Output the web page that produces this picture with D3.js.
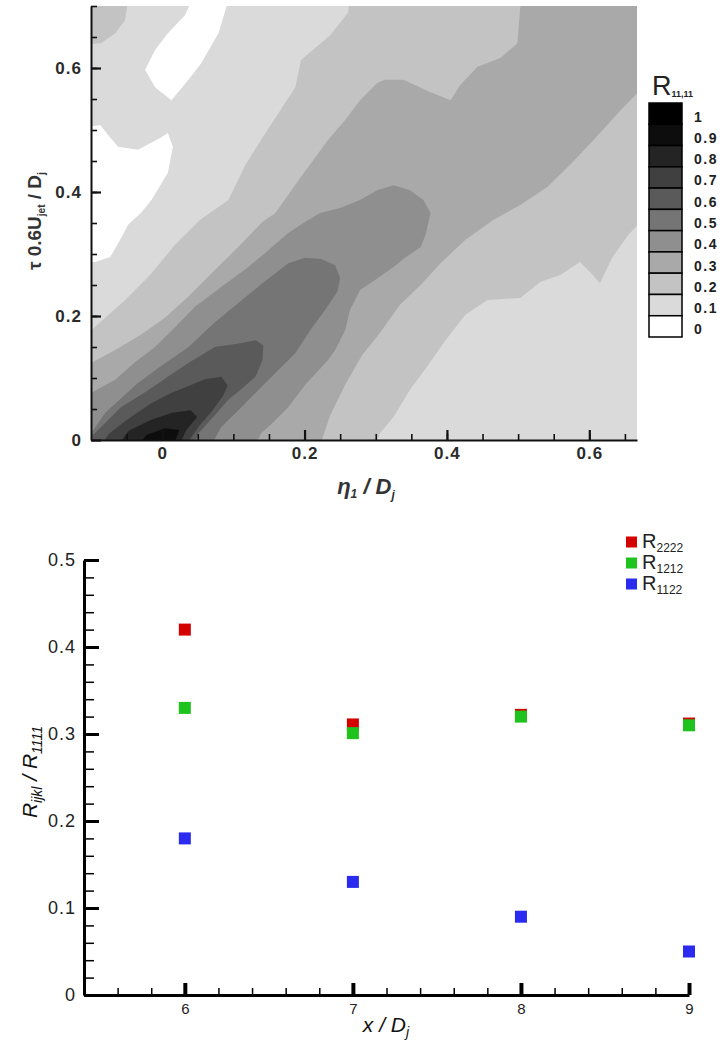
<!DOCTYPE html>
<html>
<head>
<meta charset="utf-8">
<script src="https://cdn.jsdelivr.net/npm/d3@7"></script>
<style>
  body { margin: 0; background: #fff; }
  text { font-family: "Liberation Sans", Arial, sans-serif; }
</style>
</head>
<body>
<div id="vis"></div>
<script>
// ---------- top panel: R11,11 contour map ----------
const topXTicks = [0, 0.2, 0.4, 0.6];
const topYTicks = [0, 0.2, 0.4, 0.6];
const barLevels = [1, 0.9, 0.8, 0.7, 0.6, 0.5, 0.4, 0.3, 0.2, 0.1, 0];
const grays = ['#ffffff', '#dadada', '#c3c3c3', '#a9a9a9', '#8f8f8f', '#757575',
               '#5a5a5a', '#404040', '#242424', '#0d0d0d', '#000000'];

// contour regions, [eta1/Dj, tau*0.6Ujet/Dj]
// lev00 = pockets below 0.1, levNN = region above NN/10
const lev00 = [
  [[0.042,0.71],[0.093,0.71],[0.089,0.694],[0.079,0.656],[0.055,0.608],[0.037,0.581],[0.013,0.548],
   [-0.010,0.569],[-0.024,0.597],[-0.010,0.629],[0.008,0.656],[0.032,0.685]],
  [[-0.115,0.503],[-0.087,0.508],[-0.076,0.492],[-0.062,0.473],[-0.034,0.468],[-0.003,0.487],[0.008,0.495],
   [0.015,0.473],[0.008,0.431],[-0.015,0.387],[-0.030,0.366],[-0.048,0.347],[-0.059,0.323],[-0.073,0.295],
   [-0.094,0.287],[-0.115,0.287]]
];
const lev02 = [
  [[-0.115,0.71],[-0.048,0.71],[-0.052,0.677],[-0.066,0.656],[-0.086,0.640],[-0.115,0.637]],
  [[0.264,0.71],[0.261,0.689],[0.236,0.653],[0.195,0.613],[0.187,0.569],[0.166,0.532],[0.145,0.495],
   [0.117,0.444],[0.093,0.387],[0.053,0.355],[0.018,0.315],[-0.017,0.266],[-0.052,0.226],[-0.080,0.197],
   [-0.100,0.177],[-0.115,0.165],[-0.115,-0.008],[0.299,-0.008],[0.306,0.011],[0.325,0.037],[0.348,0.081],
   [0.372,0.118],[0.398,0.161],[0.426,0.202],[0.457,0.226],[0.503,0.229],[0.531,0.255],[0.559,0.266],
   [0.587,0.287],[0.601,0.271],[0.615,0.253],[0.632,0.294],[0.655,0.331],[0.679,0.360],[0.679,0.71]]
];
const lev03 = [
  [[0.506,0.71],[0.503,0.698],[0.499,0.640],[0.475,0.616],[0.443,0.602],[0.419,0.573],[0.405,0.548],
   [0.377,0.561],[0.339,0.581],[0.313,0.581],[0.302,0.576],[0.285,0.556],[0.278,0.548],[0.257,0.516],
   [0.233,0.484],[0.194,0.423],[0.159,0.366],[0.141,0.352],[0.110,0.315],[0.074,0.274],[0.039,0.234],
   [0.004,0.197],[-0.031,0.169],[-0.066,0.145],[-0.100,0.124],[-0.115,0.116],[-0.115,-0.008],
   [0.222,-0.008],[0.236,0.040],[0.257,0.089],[0.281,0.137],[0.306,0.173],[0.334,0.218],[0.363,0.250],
   [0.391,0.285],[0.426,0.323],[0.465,0.355],[0.503,0.379],[0.541,0.408],[0.573,0.444],[0.606,0.484],
   [0.644,0.532],[0.679,0.573],[0.679,0.71]]
];
const lev04 = [
  [[-0.115,0.065],[-0.100,0.076],[-0.066,0.097],[-0.038,0.126],[-0.010,0.150],[0.018,0.182],[0.046,0.215],
   [0.081,0.245],[0.121,0.279],[0.149,0.306],[0.177,0.334],[0.201,0.352],[0.222,0.366],[0.250,0.374],
   [0.278,0.387],[0.302,0.403],[0.325,0.411],[0.348,0.403],[0.367,0.387],[0.377,0.366],[0.370,0.331],
   [0.363,0.311],[0.341,0.294],[0.325,0.279],[0.299,0.258],[0.278,0.242],[0.264,0.210],[0.257,0.177],
   [0.243,0.145],[0.233,0.129],[0.201,0.089],[0.177,0.053],[0.152,0.024],[0.139,0.011],[0.131,-0.008],
   [-0.115,-0.008]]
];
const lev05 = [
  [[-0.115,0],[-0.100,0.011],[-0.080,0.044],[-0.034,0.092],[-0.003,0.118],[0.037,0.150],[0.074,0.190],
   [0.107,0.221],[0.141,0.253],[0.177,0.285],[0.201,0.294],[0.223,0.292],[0.243,0.282],[0.250,0.261],
   [0.246,0.239],[0.229,0.210],[0.208,0.177],[0.187,0.140],[0.159,0.108],[0.131,0.076],[0.107,0.048],
   [0.083,0.021],[0.069,-0.008],[-0.115,-0.008]]
];
const lev06 = [
  [[-0.115,-0.003],[-0.100,0.005],[-0.058,0.053],[-0.024,0.077],[0.008,0.102],[0.039,0.126],[0.074,0.150],
   [0.110,0.156],[0.131,0.161],[0.142,0.153],[0.141,0.129],[0.131,0.102],[0.110,0.081],[0.093,0.065],
   [0.070,0.035],[0.051,0.011],[0.044,-0.008]]
];
const lev07 = [
  [[-0.085,-0.008],[-0.075,0.010],[-0.048,0.034],[-0.017,0.058],[0.011,0.075],[0.037,0.087],[0.060,0.098],
   [0.083,0.102],[0.092,0.088],[0.086,0.072],[0.069,0.045],[0.053,0.024],[0.040,0.003],[0.035,-0.008]]
];
const lev08 = [
  [[-0.062,-0.008],[-0.047,0.015],[-0.017,0.032],[0.014,0.044],[0.040,0.048],[0.049,0.037],[0.034,0.016],
   [0.024,-0.008]]
];
const lev09 = [
  [[-0.034,-0.008],[-0.022,0.008],[0.004,0.019],[0.024,0.016],[0.016,-0.008]]
];

// ---------- bottom panel: ratios ----------
const xPos = [6, 7, 8, 9];
const r2222 = [0.42, 0.311, 0.322, 0.312];
const r1212 = [0.33, 0.301, 0.32, 0.31];
const r1122 = [0.18, 0.13, 0.09, 0.05];
const seriesNames = ['2222', '1212', '1122'];
const seriesColors = ['#d40000', '#1ec31e', '#2b2bef'];
const botXTicks = [6, 7, 8, 9];
const botYTicks = [0, 0.1, 0.2, 0.3, 0.4, 0.5];

const svg = d3.select('#vis').append('svg')
    .attr('width', 725)
    .attr('height', 1041);

const fmt = d3.format('~g');

// ================= top =================
const mTop = {top: 6, left: 91};
const wTop = 546, hTop = 434;
const gTop = svg.append('g').attr('transform', `translate(${mTop.left},${mTop.top})`);

const xTop = d3.scaleLinear().domain([-0.1, 0.667]).range([0, wTop]);
const yTop = d3.scaleLinear().domain([0, 0.7]).range([hTop, 0]);
const bandGray = d3.scaleThreshold().domain([0.1, 0.2, 0.3, 0.4, 0.5, 0.6, 0.7, 0.8, 0.9, 1]).range(grays);

svg.append('defs').append('clipPath').attr('id', 'plotclip')
  .append('rect').attr('width', wTop).attr('height', hTop);

const field = gTop.append('g').attr('clip-path', 'url(#plotclip)');
field.append('rect').attr('width', wTop).attr('height', hTop).attr('fill', bandGray(0.15));

const layers = [
  {lo: 0, polys: lev00}, {lo: 0.2, polys: lev02}, {lo: 0.3, polys: lev03}, {lo: 0.4, polys: lev04},
  {lo: 0.5, polys: lev05}, {lo: 0.6, polys: lev06}, {lo: 0.7, polys: lev07}, {lo: 0.8, polys: lev08},
  {lo: 0.9, polys: lev09}
];
const ring = d3.line()
    .x(d => xTop(d[0]))
    .y(d => yTop(d[1]))
    .curve(d3.curveLinearClosed);

layers.forEach(L => {
  field.append('g').selectAll('path')
    .data(L.polys)
    .join('path')
      .attr('d', ring)
      .attr('fill', bandGray(L.lo + 0.05));
});

function tickStyle(g, w, col) {
  g.selectAll('.tick line').attr('stroke', col).attr('stroke-width', w);
}

// minor ticks
gTop.append('g').attr('transform', `translate(0,${hTop})`)
  .call(d3.axisBottom(xTop).tickValues(d3.range(-0.05, 0.66, 0.05)).tickSize(-6).tickSizeOuter(0).tickFormat(''))
  .call(g => g.select('.domain').remove())
  .call(g => tickStyle(g, 1.6, '#111'));
gTop.append('g')
  .call(d3.axisLeft(yTop).tickValues(d3.range(0.05, 0.71, 0.05)).tickSize(-6).tickSizeOuter(0).tickFormat(''))
  .call(g => g.select('.domain').remove())
  .call(g => tickStyle(g, 1.6, '#111'));

// major ticks
const topLabel = g => g.selectAll('.tick text')
    .attr('fill', '#2b2b2b')
    .style('font-size', '17px')
    .style('font-weight', 'bold')
    .style('letter-spacing', '1px');

gTop.append('g').attr('transform', `translate(0,${hTop})`)
  .call(d3.axisBottom(xTop).tickValues(topXTicks).tickSize(-10).tickSizeOuter(0).tickPadding(7).tickFormat(fmt))
  .call(g => g.select('.domain').attr('stroke', '#111').attr('stroke-width', 2))
  .call(g => tickStyle(g, 2.2, '#111'))
  .call(topLabel);
gTop.append('g')
  .call(d3.axisLeft(yTop).tickValues(topYTicks).tickSize(-10).tickSizeOuter(0).tickPadding(9).tickFormat(fmt))
  .call(g => g.select('.domain').attr('stroke', '#111').attr('stroke-width', 2))
  .call(g => tickStyle(g, 2.2, '#111'))
  .call(topLabel);

// axis titles
svg.append('text')
  .attr('transform', 'translate(41,221) rotate(-90)')
  .attr('text-anchor', 'middle')
  .attr('fill', '#333')
  .style('font-size', '19px')
  .style('font-weight', 'bold')
  .call(t => {
    t.append('tspan').text('τ 0.6U');
    t.append('tspan').attr('dy', 4).style('font-size', '10px').text('jet');
    t.append('tspan').attr('dy', -4).text(' / D');
    t.append('tspan').attr('dy', 4).style('font-size', '11px').text('j');
  });

svg.append('text')
  .attr('x', 366).attr('y', 494)
  .attr('text-anchor', 'middle')
  .attr('fill', '#333')
  .style('font-size', '22px')
  .style('font-weight', 'bold')
  .style('font-style', 'italic')
  .call(t => {
    t.append('tspan').text('η');
    t.append('tspan').attr('dy', 4).style('font-size', '12px').text('1');
    t.append('tspan').attr('dy', -4).text(' / D');
    t.append('tspan').attr('dy', 5).style('font-size', '12px').text('j');
  });

// colour bar
const barY = d3.scaleBand().domain(barLevels).range([103, 337]);
const bar = svg.append('g').attr('transform', 'translate(649,0)');
bar.selectAll('rect')
  .data(barLevels)
  .join('rect')
    .attr('x', 0)
    .attr('y', d => barY(d))
    .attr('width', 33)
    .attr('height', barY.bandwidth())
    .attr('fill', d => bandGray(d + 0.05))
    .attr('stroke', '#000')
    .attr('stroke-width', 1.5);
bar.selectAll('text')
  .data(barLevels)
  .join('text')
    .attr('x', 45)
    .attr('y', d => barY(d) + barY.bandwidth() / 2 + 8)
    .attr('fill', '#222')
    .style('font-size', '14px')
    .style('font-weight', 'bold')
    .style('letter-spacing', '1.5px')
    .text(fmt);

svg.append('text')
  .attr('x', 652).attr('y', 95)
  .attr('fill', '#222')
  .style('font-size', '27px')
  .call(t => {
    t.append('tspan').text('R');
    t.append('tspan').attr('dy', 2).style('font-size', '9px').style('font-weight', 'bold').text('11,11');
  });

// ================= bottom =================
const mBot = {top: 560, left: 84};
const wBot = 605, hBot = 435;
const gBot = svg.append('g').attr('transform', `translate(${mBot.left},${mBot.top})`);

const xB = d3.scaleLinear().domain([5.4, 9]).range([0, wBot]);
const yB = d3.scaleLinear().domain([0, 0.5]).range([hBot, 0]);

gBot.append('g').attr('transform', `translate(0,${hBot})`)
  .call(d3.axisBottom(xB).tickValues(d3.range(5.6, 9.01, 0.2)).tickSize(-7).tickSizeOuter(0).tickFormat(''))
  .call(g => g.select('.domain').remove())
  .call(g => tickStyle(g, 1.5, '#000'));
gBot.append('g')
  .call(d3.axisLeft(yB).tickValues(d3.range(0.02, 0.5, 0.02)).tickSize(-10).tickSizeOuter(0).tickFormat(''))
  .call(g => g.select('.domain').remove())
  .call(g => tickStyle(g, 1.5, '#000'));

gBot.append('g').attr('transform', `translate(0,${hBot})`)
  .call(d3.axisBottom(xB).tickValues(botXTicks).tickSize(-12).tickSizeOuter(0).tickPadding(8).tickFormat(fmt))
  .call(g => g.select('.domain').attr('stroke', '#000').attr('stroke-width', 3))
  .call(g => tickStyle(g, 4, '#000'))
  .call(g => g.selectAll('.tick text').attr('fill', '#222').style('font-size', '15px'));
gBot.append('g')
  .call(d3.axisLeft(yB).tickValues(botYTicks).tickSize(-15).tickSizeOuter(0).tickPadding(8).tickFormat(fmt))
  .call(g => g.select('.domain').attr('stroke', '#000').attr('stroke-width', 3))
  .call(g => tickStyle(g, 3, '#000'))
  .call(g => g.selectAll('.tick text').attr('fill', '#222').style('font-size', '18px').style('letter-spacing', '1px'));

const seriesVals = [r2222, r1212, r1122];
const series = seriesNames.map((name, i) => ({
  name: name,
  color: seriesColors[i],
  pts: xPos.map((x, j) => [x, seriesVals[i][j]])
}));

const sq = 12;
series.forEach(s => {
  gBot.append('g').selectAll('rect')
    .data(s.pts)
    .join('rect')
      .attr('x', d => xB(d[0]) - sq / 2)
      .attr('y', d => yB(d[1]) - sq / 2)
      .attr('width', sq)
      .attr('height', sq)
      .attr('fill', s.color);
});

// legend
const leg = svg.append('g').attr('transform', 'translate(626,542)');
leg.selectAll('g')
  .data(series)
  .join('g')
    .attr('transform', (d, i) => `translate(0,${i * 21})`)
    .each(function(d) {
      const g = d3.select(this);
      g.append('rect').attr('x', 0).attr('y', -5.5).attr('width', 11).attr('height', 11).attr('fill', d.color);
      const t = g.append('text').attr('x', 16).attr('y', 6).attr('fill', '#222').style('font-size', '20px');
      t.append('tspan').text('R');
      t.append('tspan').attr('dy', 4).style('font-size', '12px').text(d.name);
    });

// axis titles
svg.append('text')
  .attr('transform', 'translate(37,772) rotate(-90)')
  .attr('text-anchor', 'middle')
  .attr('fill', '#111')
  .style('font-size', '21px')
  .style('font-style', 'italic')
  .call(t => {
    t.append('tspan').text('R');
    t.append('tspan').attr('dy', 5).style('font-size', '14px').text('ijkl');
    t.append('tspan').attr('dy', -5).text(' / R');
    t.append('tspan').attr('dy', 5).style('font-size', '14px').text('1111');
  });

svg.append('text')
  .attr('x', 386).attr('y', 1032)
  .attr('text-anchor', 'middle')
  .attr('fill', '#111')
  .style('font-size', '21px')
  .style('font-style', 'italic')
  .call(t => {
    t.append('tspan').text('x / D');
    t.append('tspan').attr('dy', 5).style('font-size', '14px').text('j');
  });
</script>
</body>
</html>
